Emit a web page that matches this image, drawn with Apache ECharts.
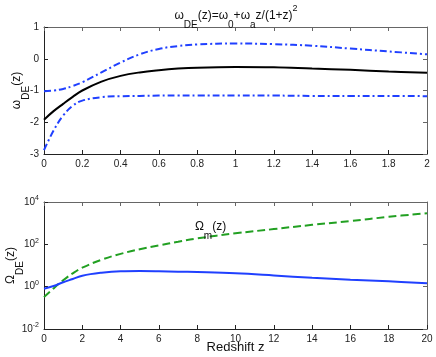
<!DOCTYPE html>
<html>
<head>
<meta charset="utf-8">
<script src="https://cdn.jsdelivr.net/npm/echarts@6/dist/echarts.min.js"></script>
<style>
html, body { margin: 0; padding: 0; background: #fff; }
#chart { width: 436px; height: 357px; }
</style>
</head>
<body>
<div id="chart"></div>
<script>
// top panel: equation of state w_DE(z) and its 1-sigma band
const zTop = [0, 0.05, 0.1, 0.15, 0.2, 0.3, 0.4, 0.5, 0.6, 0.7, 0.8, 1.0, 1.2, 1.4, 1.6, 1.8, 2.0]
const wBest = [-1.92, -1.65, -1.42, -1.2, -1.0, -0.72, -0.54, -0.43, -0.36, -0.31, -0.28, -0.26, -0.27, -0.31, -0.35, -0.40, -0.44]
const wUpper = [-1.02, -1.0, -0.95, -0.86, -0.74, -0.43, -0.12, 0.14, 0.31, 0.40, 0.45, 0.48, 0.46, 0.41, 0.32, 0.23, 0.14]
const wLower = [-2.88, -2.26, -1.79, -1.48, -1.32, -1.21, -1.18, -1.17, -1.16, -1.16, -1.16, -1.16, -1.16, -1.17, -1.17, -1.17, -1.18]

// bottom panel: density parameters (log scale)
const zBot = [0, 0.5, 1, 1.5, 2, 3, 4, 5, 6, 7, 8, 10, 12, 14, 16, 18, 20]
const omegaDE = [0.8, 1.07, 1.62, 2.29, 3.3, 4.57, 5.37, 5.5, 5.37, 5.13, 4.9, 4.27, 3.39, 2.63, 2.14, 1.78, 1.45]
const omegaM = [0.32, 0.83, 2.0, 4.27, 7.9, 18.6, 35.5, 58.9, 89, 132, 191, 331, 525, 832, 1259, 1995, 2951]

const pairs = (xs, ys) => xs.map((x, i) => [x, ys[i]])

const FONT = 'Liberation Sans, Arial, sans-serif'
const AXIS_DARK = '#222'
const AXIS_LIGHT = '#666'
const BLUE = '#2040ff'
const GREEN = '#22a022'

// tex-like sub/superscripts: every piece hangs from the line top, shifted by padding
const subRich = {
  g: { fontSize: 12, fontFamily: FONT, fontWeight: 'normal', color: '#111', lineHeight: 28, verticalAlign: 'top', padding: [6, 0, 0, 0] },
  sub: { fontSize: 10, fontFamily: FONT, fontWeight: 'normal', color: '#111', lineHeight: 28, verticalAlign: 'top', padding: [16, 0, 0, 0] },
  sup: { fontSize: 9, fontFamily: FONT, fontWeight: 'normal', color: '#111', lineHeight: 28, verticalAlign: 'top', padding: [0, 0, 0, 0] }
}

function mainX(gridIndex, min, max, interval, extra) {
  return Object.assign({
    type: 'value', gridIndex, min, max, interval, position: 'bottom',
    axisLine: { onZero: false, lineStyle: { color: AXIS_DARK, width: 1 } },
    axisTick: { inside: true, length: 4, lineStyle: { color: AXIS_DARK } },
    axisLabel: { color: '#222', fontSize: 10, fontFamily: FONT, margin: 5 },
    splitLine: { show: false }
  }, extra || {})
}
function boxX(gridIndex, min, max, interval) {
  return {
    type: 'value', gridIndex, min, max, interval, position: 'top',
    axisLine: { onZero: false, lineStyle: { color: AXIS_LIGHT, width: 1 } },
    axisTick: { inside: true, length: 4, lineStyle: { color: AXIS_LIGHT } },
    axisLabel: { show: false }, splitLine: { show: false }
  }
}

const chart = echarts.init(document.getElementById('chart'), null, { renderer: 'canvas' })

chart.setOption({
  animation: false,
  backgroundColor: '#fff',
  title: {
    text: '{g|ω}{sub|DE}{g|(z)=ω}{sub|0}{g|+ω}{sub|a}{g|z/(1+z)}{sup|2}',
    left: 236, top: 4, padding: 0, textAlign: 'center',
    textStyle: { fontWeight: 'normal', rich: subRich }
  },
  grid: [
    { left: 44, top: 27, width: 383, height: 127, outerBoundsMode: 'none', containLabel: false },
    { left: 44, top: 202, width: 383, height: 127, outerBoundsMode: 'none', containLabel: false }
  ],
  xAxis: [
    mainX(0, 0, 2, 0.2),
    boxX(0, 0, 2, 0.2),
    mainX(1, 0, 20, 2, {
      name: 'Redshift z', nameLocation: 'middle', nameGap: 12, nameMoveOverlap: false,
      nameTextStyle: { fontSize: 13, fontFamily: FONT, color: '#111', verticalAlign: 'top' }
    }),
    boxX(1, 0, 20, 2)
  ],
  yAxis: [
    {
      type: 'value', gridIndex: 0, min: -3, max: 1, interval: 1, position: 'left',
      name: '{g|ω}{sub|DE}{g|(z)}', nameLocation: 'middle', nameRotate: 90, nameGap: 11,
      nameMoveOverlap: false,
      nameTextStyle: { rich: subRich },
      axisLine: { show: true, onZero: false, lineStyle: { color: AXIS_DARK } },
      axisTick: { show: true, inside: true, length: 4, lineStyle: { color: AXIS_DARK } },
      axisLabel: { color: '#222', fontSize: 10, fontFamily: FONT, margin: 5 },
      splitLine: { show: false }
    },
    {
      type: 'value', gridIndex: 0, min: -3, max: 1, interval: 1, position: 'right',
      axisLine: { show: true, onZero: false, lineStyle: { color: AXIS_LIGHT } },
      axisTick: { show: true, inside: true, length: 4, lineStyle: { color: AXIS_LIGHT } },
      axisLabel: { show: false }, splitLine: { show: false }
    },
    {
      type: 'log', logBase: 10, gridIndex: 1, min: 0.01, max: 10000, interval: 2, position: 'left',
      name: '{g|Ω}{sub|DE}{g|(z)}', nameLocation: 'middle', nameRotate: 90, nameGap: 17,
      nameMoveOverlap: false,
      nameTextStyle: { rich: subRich },
      axisLine: { show: true, onZero: false, lineStyle: { color: AXIS_DARK } },
      axisTick: { show: true, inside: true, length: 4, lineStyle: { color: AXIS_DARK } },
      axisLabel: {
        margin: 5,
        formatter: v => '{b|10}{e|' + Math.round(Math.log10(v)) + '}',
        rich: {
          b: { fontSize: 10, fontFamily: FONT, color: '#222', lineHeight: 14 },
          e: { fontSize: 7, fontFamily: FONT, color: '#222', lineHeight: 8, verticalAlign: 'top' }
        }
      },
      minorTick: { show: false },
      splitLine: { show: false }
    },
    {
      type: 'log', logBase: 10, gridIndex: 1, min: 0.01, max: 10000, interval: 2, position: 'right',
      axisLine: { show: true, onZero: false, lineStyle: { color: AXIS_LIGHT } },
      axisTick: { show: true, inside: true, length: 4, lineStyle: { color: AXIS_LIGHT } },
      axisLabel: { show: false }, splitLine: { show: false }
    }
  ],
  series: [
    {
      type: 'line', xAxisIndex: 0, yAxisIndex: 0, data: pairs(zTop, wUpper),
      smooth: 0.4, showSymbol: false, symbol: 'none',
      lineStyle: { color: BLUE, width: 2, type: [7, 3, 2, 3] }
    },
    {
      type: 'line', xAxisIndex: 0, yAxisIndex: 0, data: pairs(zTop, wLower),
      smooth: 0.4, showSymbol: false, symbol: 'none',
      lineStyle: { color: BLUE, width: 2, type: [7, 3, 2, 3] }
    },
    {
      type: 'line', xAxisIndex: 0, yAxisIndex: 0, data: pairs(zTop, wBest),
      smooth: 0.4, showSymbol: false, symbol: 'none',
      lineStyle: { color: '#000', width: 2 }
    },
    {
      type: 'line', xAxisIndex: 2, yAxisIndex: 2, data: pairs(zBot, omegaM),
      smooth: 0.4, showSymbol: false, symbol: 'none',
      lineStyle: { color: GREEN, width: 2, type: [8, 4] },
      markPoint: {
        symbol: 'circle', symbolSize: 0,
        data: [{ coord: [7.88, 2450] }],
        label: {
          show: true, position: [0, 0], align: 'left', verticalAlign: 'top',
          formatter: '{g|Ω}{sub|m}{g|(z)}',
          rich: subRich
        }
      }
    },
    {
      type: 'line', xAxisIndex: 2, yAxisIndex: 2, data: pairs(zBot, omegaDE),
      smooth: 0.4, showSymbol: false, symbol: 'none',
      lineStyle: { color: BLUE, width: 2 }
    }
  ]
})
</script>
</body>
</html>
